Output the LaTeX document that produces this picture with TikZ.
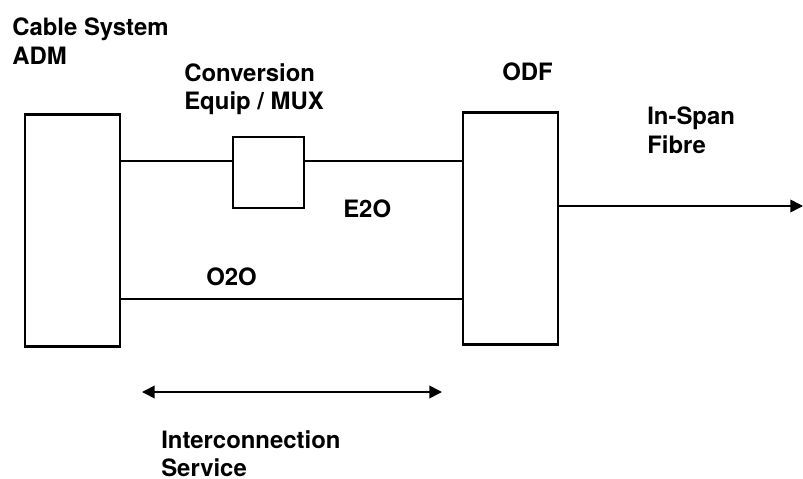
\documentclass[tikz,border=0pt]{standalone}
\usepackage{fontspec}
\setmainfont{TeX Gyre Heros}
\usetikzlibrary{arrows.meta}

\begin{document}
\begin{tikzpicture}[x=0.025cm, y=-0.025cm, >={Triangle[length=9pt, width=9pt]},
    rack/.style={draw, line width=1.8pt, minimum width=2.375cm, minimum height=5.8cm, inner sep=0pt},
    conv/.style={draw, line width=1.8pt, minimum size=1.775cm, inner sep=0pt},
    link/.style={line width=1.2pt},
    lbl/.style={anchor=north west, inner sep=0pt, align=left, font=\bfseries\fontsize{17}{20}\selectfont}]
    \useasboundingbox (0,0) rectangle (803,479);
    \node[rack] (adm) at (72.5,230.5) {};
    \node[conv] (mux) at (268.5,172.5) {};
    \node[rack] (odf) at (510.5,228.5) {};
    \coordinate (wire top) at (0,161);
    \coordinate (wire bottom) at (0,299);
    \coordinate (fibre end) at (803,206);
    \coordinate (svc left) at (142,392);
    \coordinate (svc right) at (442,392);
    % E2O path through the converter
    \draw[link] (adm.east |- wire top) -- (mux.west |- wire top);
    \draw[link] (mux.east |- wire top) -- (odf.west |- wire top);
    % O2O path
    \draw[link] (adm.east |- wire bottom) -- (odf.west |- wire bottom);
    \draw[link, ->] (odf.east |- fibre end) -- (fibre end);
    \draw[link, <->] (svc left) -- (svc right);
    \node[lbl] (adm label) at (12,18) {Cable System\\ADM};
    \node[lbl] (mux label) at (184,63) {Conversion\\Equip / MUX};
    \node[lbl] (odf label) at (502,63) {ODF};
    \node[lbl] (fibre label) at (647,107) {In-Span\\Fibre};
    \node[lbl] (e2o label) at (343,200) {E2O};
    \node[lbl] (o2o label) at (206,268) {O2O};
    \node[lbl] (svc label) at (161,430) {Interconnection\\Service};
\end{tikzpicture}
\end{document}
